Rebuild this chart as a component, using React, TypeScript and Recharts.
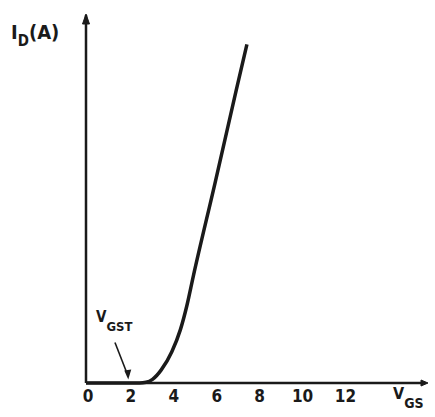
import React from 'react'
import {
  LineChart,
  Line,
  XAxis,
  YAxis,
  ReferenceLine,
  ReferenceDot,
  Customized,
} from 'recharts'

// transfer characteristic I_D vs V_GS
const vgs = [0, 1, 2, 2.5, 2.8, 3.1, 3.5, 4, 4.4, 4.7, 5, 6, 7, 7.5]
const idAmps = [0, 0, 0, 0, 0.02, 0.1, 0.35, 0.85, 1.45, 2.1, 2.9, 5.4, 7.95, 9.2]
const xTicks = [0, 2, 4, 6, 8, 10, 12]

const data = vgs.map((v, i) => ({ vgs: v, id: idAmps[i] }))

const ink = '#1a1a1a'
const font = '"DejaVu Sans Condensed", "DejaVu Sans", sans-serif'

function Arrow(props: any) {
  const { cx, cy, dir } = props
  if (cx == null || cy == null) return null
  const d =
    dir === 'up'
      ? `M${cx - 3.5},${cy + 9} L${cx},${cy - 1} L${cx + 3.5},${cy + 9} Z`
      : `M${cx - 4},${cy - 3} L${cx + 3},${cy} L${cx - 4},${cy + 3} Z`
  return <path d={d} fill={ink} stroke={ink} />
}

function Labels() {
  return (
    <g fontFamily={font} fontWeight="bold" fill={ink}>
      <text x={11} y={39} fontSize={20}>
        I
        <tspan fontSize={15} dy={7}>D</tspan>
        <tspan fontSize={20} dy={-7}>(A)</tspan>
      </text>
      <text x={96} y={322} fontSize={15}>
        V<tspan fontSize={13} dy={9}>GST</tspan>
      </text>
      <text x={393} y={399} fontSize={16}>
        V<tspan fontSize={14} dy={9}>GS</tspan>
      </text>
    </g>
  )
}

export default function App() {
  return (
    <div style={{ position: 'absolute', left: 0, top: 0, width: 435, height: 417, background: '#fff' }}>
      <LineChart
        width={435}
        height={417}
        data={data}
        margin={{ top: 15, right: 10, bottom: 10, left: 86 }}
      >
        <XAxis
          dataKey="vgs"
          type="number"
          domain={[0, 15.8]}
          ticks={xTicks}
          height={24}
          axisLine={{ stroke: ink, strokeWidth: 2.5 }}
          tickLine={false}
          tickSize={4}
          tickMargin={3}
          tick={{ fontSize: 17, fontWeight: 'bold', fill: ink, fontFamily: font, dx: 2 }}
        />
        <YAxis type="number" domain={[0, 10]} width={0} tick={false} tickLine={false} axisLine={false} />
        <ReferenceLine x={0} stroke={ink} strokeWidth={2.5} />
        <ReferenceLine
          segment={[{ x: 1.35, y: 1.1 }, { x: 1.92, y: 0.25 }]}
          stroke={ink}
          strokeWidth={1.6}
        />
        <ReferenceDot
          x={1.97}
          y={0.15}
          r={3}
          shape={(p: any) => (
            <path
              d={`M${p.cx - 4},${p.cy - 7} L${p.cx},${p.cy + 2} L${p.cx + 3},${p.cy - 8} Z`}
              fill={ink}
            />
          )}
        />
        <ReferenceDot x={0} y={10} r={3} shape={(p: any) => <Arrow {...p} dir="up" />} />
        <ReferenceDot x={15.8} y={0} r={3} shape={(p: any) => <Arrow {...p} dir="right" />} />
        <Line
          type="monotone"
          dataKey="id"
          stroke={ink}
          strokeWidth={3.5}
          dot={false}
          isAnimationActive={false}
        />
        <Customized component={Labels} />
      </LineChart>
    </div>
  )
}
